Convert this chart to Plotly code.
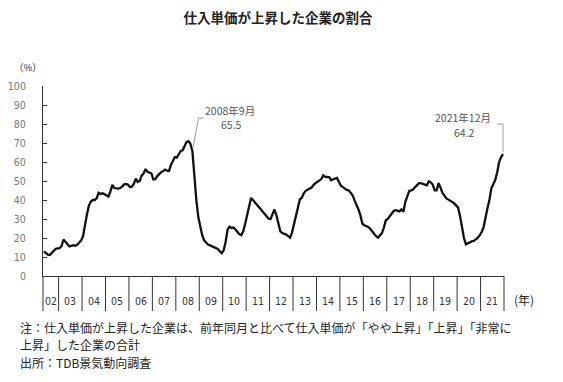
import plotly.graph_objects as go

# ---- data ----
year_labels = ["02", "03", "04", "05", "06", "07", "08", "09", "10", "11",
               "12", "13", "14", "15", "16", "17", "18", "19", "20", "21"]
months_in_year = [8] + [12] * 19   # survey starts May 2002

ratio = [
    13.0, 12.0, 11.2, 11.0, 12.2, 13.0, 14.3, 14.5,                       # 2002 (May-Dec)
    14.6, 15.8, 19.2, 18.0, 16.8, 15.6, 15.9, 16.2, 15.9, 16.4, 17.6, 18.6,  # 2003
    21.0, 27.5, 32.5, 37.0, 39.2, 40.0, 40.0, 41.0, 43.8, 43.2, 43.5, 43.0,  # 2004
    42.3, 41.8, 44.5, 48.0, 46.3, 46.0, 46.0, 46.3, 47.0, 48.2, 48.4, 48.0,  # 2005
    46.8, 47.0, 48.5, 51.3, 49.5, 50.0, 52.8, 54.0, 56.3, 54.8, 54.3, 54.0,  # 2006
    50.8, 51.0, 52.6, 53.8, 54.6, 55.2, 56.0, 55.4, 55.3, 58.5, 60.3, 62.6,  # 2007
    62.3, 64.5, 65.8, 66.2, 68.5, 70.6, 71.0, 69.5, 65.5, 52.0, 40.0, 31.0,  # 2008
    25.5, 21.5, 18.8, 17.5, 16.5, 16.1, 15.6, 15.3, 14.8, 14.2, 13.0, 12.0,  # 2009
    13.5, 18.0, 24.5, 26.0, 25.3, 25.5, 24.5, 23.0, 22.0, 21.5, 23.5, 27.5,  # 2010
    32.5, 37.5, 41.0, 40.0, 38.5, 37.5, 36.3, 35.0, 33.5, 32.5, 31.3, 30.2,  # 2011
    30.0, 32.5, 35.0, 32.0, 27.0, 23.5, 22.6, 22.3, 21.8, 21.0, 20.2, 23.0,  # 2012
    27.5, 31.5, 36.5, 40.3, 41.2, 43.5, 44.8, 45.2, 46.0, 46.5, 48.0, 48.8,  # 2013
    49.5, 50.5, 51.0, 53.0, 52.2, 52.1, 52.0, 50.4, 51.0, 51.3, 51.6, 49.5,  # 2014
    47.5, 46.8, 45.8, 45.3, 45.1, 44.0, 42.5, 39.8, 37.5, 35.0, 31.9, 27.5,  # 2015
    26.7, 26.3, 25.8, 24.9, 23.5, 22.3, 21.0, 20.2, 21.2, 22.5, 25.5, 29.3,  # 2016
    30.0, 31.5, 32.5, 34.2, 34.6, 34.4, 34.0, 35.0, 33.8, 39.0, 42.0, 44.8,  # 2017
    45.1, 45.5, 46.8, 48.0, 48.9, 48.9, 48.6, 48.1, 47.7, 49.8, 49.3, 48.1,  # 2018
    45.1, 45.1, 48.9, 46.5, 43.7, 42.3, 40.8, 40.2, 39.8, 39.0, 38.2, 37.2,  # 2019
    36.0, 31.5, 25.5, 20.0, 16.7, 17.3, 17.9, 18.2, 18.5, 19.1, 20.0, 21.4,  # 2020
    23.0, 25.5, 31.0, 35.5, 39.8, 46.0, 48.3, 50.5, 54.5, 60.0, 62.6, 64.2,  # 2021
]

callout_2008 = ("2008年9月", 65.5)
callout_2021 = ("2021年12月", 64.2)

title_text = "仕入単価が上昇した企業の割合"
note_lines = [
    "注：仕入単価が上昇した企業は、前年同月と比べて仕入単価が「やや上昇」「上昇」「非常に",
    "上昇」した企業の合計",
    "出所：TDB景気動向調査",
]

# ---- geometry (page has an 8px body margin) ----
OFF = 8
W, H = 555, 374
L, T, PW, PH = 35, 78, 461, 190
R = W - L - PW
B = H - T - PH
PLOT_LEFT = OFF + L
PLOT_BOTTOM = OFF + T + PH


def fx(page_x):
    return (page_x - PLOT_LEFT) / PW


def fy(page_y):
    return (PLOT_BOTTOM - page_y) / PH


n = len(ratio)
xs = [i + 0.5 for i in range(n)]
bounds = [0]
for m in months_in_year:
    bounds.append(bounds[-1] + m)

CJK = "Noto Sans CJK JP, sans-serif"
NARROW = "Liberation Sans Narrow, DejaVu Sans Condensed, Arial Narrow, sans-serif"

fig = go.Figure()
fig.add_trace(go.Scatter(x=xs, y=ratio, mode="lines",
                         line=dict(color="#111111", width=2.3),
                         hoverinfo="skip", showlegend=False))

shapes = []
for b in bounds:
    shapes.append(dict(type="line", xref="paper", yref="paper",
                       x0=b / n, x1=b / n, y0=0, y1=fy(311),
                       line=dict(color="#333333", width=1)))

annotations = []
for lab, a, b in zip(year_labels, bounds[:-1], bounds[1:]):
    annotations.append(dict(x=(a + b) / 2, y=fy(301), xref="x", yref="paper",
                            text=lab, showarrow=False,
                            font=dict(family=NARROW, size=10.5, color="#333333"),
                            xanchor="center", yanchor="middle"))
annotations.append(dict(x=fx(524), y=fy(299), xref="paper", yref="paper",
                        text="(年)", showarrow=False, xanchor="center", yanchor="middle",
                        font=dict(family=CJK, size=12, color="#222222")))

# callouts
i08 = 8 + (2008 - 2003) * 12 + (9 - 1)
i21 = 8 + (2021 - 2003) * 12 + (12 - 1)
gray = "#9a9a9a"


def dx(page_x):
    return fx(page_x) * n


def dy(page_y):
    return fy(page_y) * 100


shapes.append(dict(type="path", xref="x", yref="y",
                   path=f"M {xs[i08]+0.3},{ratio[i08]+2} L {dx(198.5)},{dy(118)} L {dx(203.5)},{dy(118)}",
                   line=dict(color=gray, width=1)))
shapes.append(dict(type="path", xref="x", yref="y",
                   path=f"M {dx(497)},{dy(124)} L {xs[i21]},{dy(124)} L {xs[i21]},{ratio[i21]+1}",
                   line=dict(color=gray, width=1)))

callout_font = dict(family=CJK, size=10.5, color="#555555")
annotations.append(dict(x=fx(230), y=fy(110.5), xref="paper", yref="paper",
                        text=callout_2008[0], showarrow=False, xanchor="center", yanchor="middle",
                        font=callout_font))
annotations.append(dict(x=fx(231), y=fy(124.5), xref="paper", yref="paper",
                        text=f"{callout_2008[1]:.1f}", showarrow=False, xanchor="center", yanchor="middle",
                        font=callout_font))
annotations.append(dict(x=fx(463), y=fy(117.5), xref="paper", yref="paper",
                        text=callout_2021[0], showarrow=False, xanchor="center", yanchor="middle",
                        font=callout_font))
annotations.append(dict(x=fx(464), y=fy(132.5), xref="paper", yref="paper",
                        text=f"{callout_2021[1]:.1f}", showarrow=False, xanchor="center", yanchor="middle",
                        font=callout_font))

# "(%)" label
annotations.append(dict(x=fx(12), y=fy(67), xref="paper", yref="paper",
                        text="（%）", showarrow=False, xanchor="left", yanchor="middle",
                        font=dict(family=CJK, size=9.5, color="#333333")))

# notes, one annotation per line
for line, py in zip(note_lines, [327, 344.5, 362]):
    annotations.append(dict(x=fx(18), y=fy(py), xref="paper", yref="paper",
                            text=line, showarrow=False,
                            xanchor="left", yanchor="middle", align="left",
                            font=dict(family=CJK, size=12, color="#222222")))

fig.update_layout(
    width=W, height=H,
    margin=dict(l=L, r=R, t=T, b=B, pad=0),
    paper_bgcolor="white", plot_bgcolor="white",
    title=dict(text=f"<b>{title_text}</b>", x=(278 - OFF) / W, xanchor="center",
               y=1 - (18.5 - OFF) / H, yanchor="middle",
               font=dict(family=CJK, size=13.5, color="#222222")),
    xaxis=dict(range=[0, n], showline=True, linecolor="#333333", linewidth=1,
               showgrid=False, zeroline=False, showticklabels=False, ticks="",
               automargin=False),
    yaxis=dict(range=[0, 100], tickvals=list(range(0, 101, 10)),
               showline=True, linecolor="#333333", linewidth=1,
               ticks="inside", ticklen=4, tickcolor="#333333",
               showgrid=False, zeroline=False, ticklabelstandoff=14,
               automargin=False,
               tickfont=dict(family=NARROW, size=10.5, color="#777777")),
    shapes=shapes,
    annotations=annotations,
    showlegend=False,
)

fig.write_html("out.html")
